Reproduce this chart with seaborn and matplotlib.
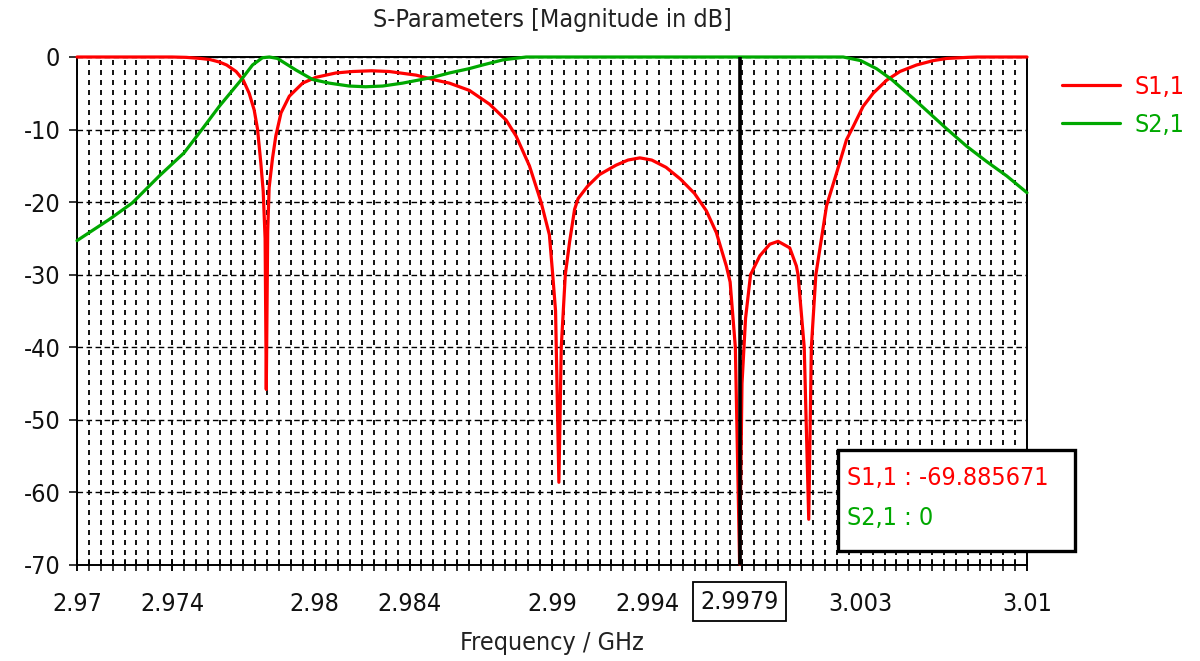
import numpy as np
import pandas as pd
import matplotlib
matplotlib.use("Agg")
import matplotlib.pyplot as plt
from matplotlib.lines import Line2D
from matplotlib.patches import Rectangle
import matplotlib.ticker as mticker
import seaborn as sns

# ---- data -----------------------------------------------------------------
s11_freq = [2.9700, 2.9720, 2.9740, 2.9746, 2.9752, 2.9756, 2.9760, 2.9763,
            2.9767, 2.9770, 2.97725, 2.97746, 2.97760, 2.97774, 2.97784,
            2.97792, 2.97797, 2.97803, 2.97809, 2.97823, 2.97837, 2.97859,
            2.97894, 2.97950, 2.98006, 2.98090, 2.98160, 2.98240, 2.98315,
            2.98428, 2.98512, 2.98568, 2.98652, 2.98737, 2.98807, 2.98849,
            2.98905, 2.98954, 2.98989, 2.99003, 2.99015, 2.99029, 2.99039,
            2.99056, 2.99074, 2.99095, 2.99110, 2.99150, 2.99200, 2.99270,
            2.99320, 2.99370, 2.99420, 2.99480, 2.99540, 2.99600, 2.99650,
            2.99692, 2.99734, 2.99750,
            2.99772, 2.99790, 2.99800, 2.99815, 2.99836, 2.99875, 2.99917,
            2.99952, 3.00001, 3.00029, 3.00036, 3.00062, 3.00081, 3.00092,
            3.00111, 3.00156, 3.00198, 3.00240, 3.00268, 3.00310, 3.00352,
            3.00409, 3.00465, 3.00535, 3.00605, 3.00662, 3.00750, 3.00790,
            3.01000]
s11_db = [0.0, 0.0, 0.0, -0.05, -0.2, -0.35, -0.7, -1.1,
          -2.0, -3.2, -5.0, -7.3, -9.9, -14.6, -18.5,
          -25.0, -45.8, -24.0, -18.0, -14.0, -10.9, -7.7,
          -5.4, -3.6, -2.8, -2.2, -2.0, -1.9, -2.0,
          -2.5, -3.2, -3.6, -4.6, -6.5, -8.7, -10.9,
          -15.0, -20.0, -24.5, -30.0, -35.0, -58.6, -40.0,
          -30.0, -25.5, -21.0, -19.5, -17.8, -16.2, -14.9,
          -14.2, -13.9, -14.2, -15.2, -16.8, -18.8, -21.2,
          -24.2, -28.8, -31.0,
          -40.0, -69.885671, -45.0, -36.0, -30.0, -27.4, -25.8,
          -25.4, -26.3, -28.8, -30.0, -40.0, -63.7, -40.0,
          -30.0, -20.5, -16.0, -11.4, -9.6, -6.8, -5.0,
          -3.2, -2.0, -1.1, -0.5, -0.2, -0.05, 0.0,
          0.0]

s21_freq = [2.9700, 2.97135, 2.97233, 2.97346, 2.97451, 2.97528, 2.97599,
            2.97690, 2.97739, 2.97781, 2.97810, 2.97844, 2.97922, 2.97992,
            2.98062, 2.98146, 2.98215, 2.98287, 2.98371, 2.98498, 2.98568,
            2.98652, 2.98708, 2.98793, 2.98891, 3.00226, 3.00300, 3.00366,
            3.00430, 3.00521, 3.00605, 3.00662, 3.00746, 3.00830, 3.00915,
            3.01000]
s21_db = [-25.3, -22.4, -20.1, -16.4, -13.2, -9.9, -6.8,
          -3.2, -1.1, -0.1, 0.0, -0.2, -1.8, -3.1,
          -3.6, -4.0, -4.1, -4.0, -3.6, -2.8, -2.2,
          -1.6, -1.1, -0.4, 0.0, 0.0, -0.5, -1.6,
          -3.1, -5.7, -8.2, -9.9, -12.3, -14.4, -16.4,
          -18.7]

series_names = ["S1,1", "S2,1"]
series_colors = {"S1,1": "#FF0000", "S2,1": "#00A800"}

x_tick_values = [2.97, 2.974, 2.98, 2.984, 2.99, 2.994, 2.998, 3.003, 3.01]
x_tick_labels = ["2.97", "2.974", "2.98", "2.984", "2.99", "2.994", "2.998",
                 "3.003", "3.01"]
y_tick_values = [0, -10, -20, -30, -40, -50, -60, -70]
y_tick_labels = ["0", "-10", "-20", "-30", "-40", "-50", "-60", "-70"]

marker_freq = 2.9979
marker_label = "2.9979"
marker_readout = [("S1,1", "-69.885671"), ("S2,1", "0")]

# ---- style ------------------------------------------------------------------
sns.set_theme(style="white")
plt.rcParams["font.family"] = ["DejaVu Sans"]
plt.rcParams["font.stretch"] = "condensed"
plt.rcParams["axes.unicode_minus"] = False
plt.rcParams["lines.scale_dashes"] = False
FS = 18

df = pd.concat([
    pd.DataFrame({"freq": s11_freq, "dB": s11_db, "series": "S1,1"}),
    pd.DataFrame({"freq": s21_freq, "dB": s21_db, "series": "S2,1"}),
], ignore_index=True)

fig = plt.figure(figsize=(12, 6.61), dpi=100)
ax = fig.add_axes([77 / 1200, 1 - 565 / 661, 950 / 1200, 508 / 661])

sns.lineplot(data=df, x="freq", y="dB", hue="series", hue_order=series_names,
             palette=series_colors, estimator=None, sort=False,
             linewidth=2.3, ax=ax, legend=False, zorder=4)
for ln in ax.lines:
    ln.set_clip_on(False)
    ln.set_solid_joinstyle("round")

ax.set_xlim(2.97, 3.01)
ax.set_ylim(-70, 0)

# ticks
ax.xaxis.set_major_locator(mticker.FixedLocator(x_tick_values))
ax.xaxis.set_major_formatter(mticker.FixedFormatter(x_tick_labels))
ax.xaxis.set_minor_locator(mticker.MultipleLocator(0.0005))
ax.xaxis.remove_overlapping_locs = False
ax.yaxis.set_major_locator(mticker.FixedLocator(y_tick_values))
ax.yaxis.set_major_formatter(mticker.FixedFormatter(y_tick_labels))

ax.tick_params(axis="x", which="both", direction="inout", length=9,
               width=1.1, color="black", bottom=True, top=False)
ax.tick_params(axis="x", which="major", labelsize=FS, pad=15,
               labelcolor="#111111")
ax.tick_params(axis="y", which="major", direction="out", length=6,
               width=1.1, color="black", left=True, labelsize=FS, pad=6,
               labelcolor="#111111")

# grid: dotted verticals at every minor step, dashed horizontals every 10 dB
ax.grid(False)
ax.grid(which="minor", axis="x", color="black", linewidth=1.3,
        linestyle=(0, (3.6, 3.6)))
ax.grid(which="major", axis="y", color="black", linewidth=1.0,
        linestyle=(0, (4.0, 2.5)))
ax.set_axisbelow(True)

for sp in ax.spines.values():
    sp.set_visible(True)
    sp.set_color("black")
    sp.set_linewidth(1.4)

# marker line
ax.axvline(marker_freq, color="black", linewidth=2.6, zorder=5)
ax.text(marker_freq, -0.072, marker_label, transform=ax.get_xaxis_transform(),
        ha="center", va="center", fontsize=FS, color="#111111", zorder=6,
        bbox=dict(boxstyle="square,pad=0.3", fc="white", ec="black", lw=1.3),
        clip_on=False)

# titles
ax.text(0.5, 1.072, "S-Parameters [Magnitude in dB]", transform=ax.transAxes,
        ha="center", va="center", fontsize=FS, color="#222222")
ax.set_xlabel("Frequency / GHz", fontsize=FS, color="#222222")
ax.xaxis.set_label_coords(0.5, -0.154)
ax.xaxis.label.set_va("center")
ax.set_ylabel("")

# legend
handles = [Line2D([], [], color=series_colors[n], linewidth=2.3)
           for n in series_names]
leg = fig.legend(handles, series_names, loc="center left",
                 bbox_to_anchor=(1052 / 1200, 1 - 106 / 661), frameon=False,
                 fontsize=FS, handlelength=2.3, handletextpad=0.6,
                 labelspacing=0.55, borderaxespad=0)
for txt, n in zip(leg.get_texts(), series_names):
    txt.set_color(series_colors[n])

# marker readout box
box = Rectangle((838 / 1200, 1 - 551 / 661), 237 / 1200, 101 / 661,
                transform=fig.transFigure, facecolor="white",
                edgecolor="black", linewidth=2.4, zorder=10)
fig.add_artist(box)
for (name, val), ypx in zip(marker_readout, [478, 518]):
    fig.text(847 / 1200, 1 - ypx / 661, f"{name} : {val}", ha="left",
             va="center", fontsize=FS, color=series_colors[name], zorder=11)

fig.savefig("out.png", dpi=100, facecolor="white")
